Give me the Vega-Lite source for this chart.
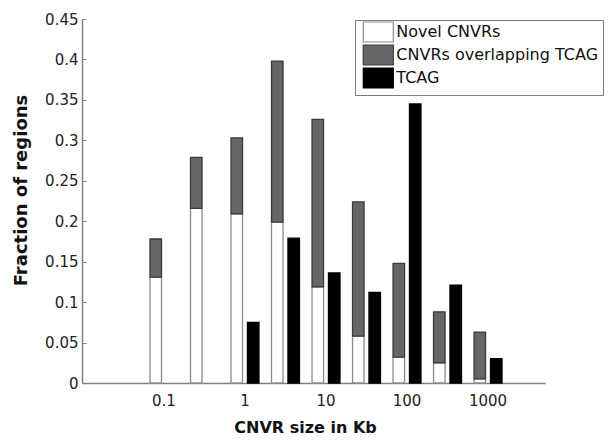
{
  "$schema": "https://vega.github.io/schema/vega-lite/v6.json",
  "width": 463,
  "height": 364,
  "autosize": {"type": "none"},
  "padding": {"left": 82, "top": 19, "right": 65, "bottom": 58},
  "background": "white",
  "config": {
    "view": {"stroke": null},
    "font": "DejaVu Sans",
    "legend": {
      "orient": "none",
      "legendX": 273,
      "legendY": 1,
      "strokeColor": "#7a7a7a",
      "fillColor": "white",
      "padding": 4,
      "symbolType": "M-2.25,-1.5H2.25V1.5H-2.25Z",
      "symbolSize": 178,
      "symbolStrokeWidth": 1.2,
      "symbolOpacity": 1,
      "symbolOffset": 11.3,
      "labelOffset": 10,
      "labelFont": "DejaVu Sans",
      "labelFontSize": 16,
      "labelColor": "#111",
      "rowPadding": -3,
      "labelLimit": 400
    }
  },
  "data": {
    "values": [
      {"size": "0.1", "bar": "CNVR", "series": "Novel CNVRs", "rank": 1, "fraction": 0.131},
      {"size": "0.1", "bar": "CNVR", "series": "CNVRs overlapping TCAG", "rank": 2, "fraction": 0.047},
      {"size": "0.32", "bar": "CNVR", "series": "Novel CNVRs", "rank": 1, "fraction": 0.216},
      {"size": "0.32", "bar": "CNVR", "series": "CNVRs overlapping TCAG", "rank": 2, "fraction": 0.063},
      {"size": "1", "bar": "CNVR", "series": "Novel CNVRs", "rank": 1, "fraction": 0.209},
      {"size": "1", "bar": "CNVR", "series": "CNVRs overlapping TCAG", "rank": 2, "fraction": 0.094},
      {"size": "1", "bar": "TCAG", "series": "TCAG", "rank": 3, "fraction": 0.075},
      {"size": "3.2", "bar": "CNVR", "series": "Novel CNVRs", "rank": 1, "fraction": 0.199},
      {"size": "3.2", "bar": "CNVR", "series": "CNVRs overlapping TCAG", "rank": 2, "fraction": 0.199},
      {"size": "3.2", "bar": "TCAG", "series": "TCAG", "rank": 3, "fraction": 0.179},
      {"size": "10", "bar": "CNVR", "series": "Novel CNVRs", "rank": 1, "fraction": 0.119},
      {"size": "10", "bar": "CNVR", "series": "CNVRs overlapping TCAG", "rank": 2, "fraction": 0.207},
      {"size": "10", "bar": "TCAG", "series": "TCAG", "rank": 3, "fraction": 0.136},
      {"size": "32", "bar": "CNVR", "series": "Novel CNVRs", "rank": 1, "fraction": 0.058},
      {"size": "32", "bar": "CNVR", "series": "CNVRs overlapping TCAG", "rank": 2, "fraction": 0.166},
      {"size": "32", "bar": "TCAG", "series": "TCAG", "rank": 3, "fraction": 0.112},
      {"size": "100", "bar": "CNVR", "series": "Novel CNVRs", "rank": 1, "fraction": 0.032},
      {"size": "100", "bar": "CNVR", "series": "CNVRs overlapping TCAG", "rank": 2, "fraction": 0.116},
      {"size": "100", "bar": "TCAG", "series": "TCAG", "rank": 3, "fraction": 0.345},
      {"size": "320", "bar": "CNVR", "series": "Novel CNVRs", "rank": 1, "fraction": 0.025},
      {"size": "320", "bar": "CNVR", "series": "CNVRs overlapping TCAG", "rank": 2, "fraction": 0.063},
      {"size": "320", "bar": "TCAG", "series": "TCAG", "rank": 3, "fraction": 0.121},
      {"size": "1000", "bar": "CNVR", "series": "Novel CNVRs", "rank": 1, "fraction": 0.005},
      {"size": "1000", "bar": "CNVR", "series": "CNVRs overlapping TCAG", "rank": 2, "fraction": 0.058},
      {"size": "1000", "bar": "TCAG", "series": "TCAG", "rank": 3, "fraction": 0.030}
    ]
  },
  "mark": {"type": "bar", "strokeWidth": 1.3},
  "encoding": {
    "x": {
      "field": "size",
      "type": "nominal",
      "scale": {
        "domain": ["lo", "0.1", "0.32", "1", "3.2", "10", "32", "100", "320", "1000", "hi"],
        "paddingInner": 0.31,
        "paddingOuter": 0.37,
        "align": 0.917
      },
      "axis": {
        "values": ["0.1", "1", "10", "100", "1000"],
        "labelAngle": 0,
        "labelDx": 5,
        "ticks": false,
        "domainColor": "#808080",
        "domainWidth": 1.5,
        "labelFont": "DejaVu Sans",
        "labelFontSize": 15,
        "labelColor": "#222",
        "labelPadding": 10,
        "title": "CNVR size in Kb",
        "titleFont": "DejaVu Sans",
        "titleFontWeight": "bold",
        "titleFontSize": 16,
        "titleColor": "#111",
        "titleX": 223,
        "titleY": 36
      }
    },
    "xOffset": {
      "field": "bar",
      "type": "nominal",
      "sort": ["CNVR", "TCAG"],
      "scale": {"paddingInner": 0.3}
    },
    "y": {
      "field": "fraction",
      "type": "quantitative",
      "stack": "zero",
      "scale": {"domain": [0, 0.45], "nice": false},
      "axis": {
        "values": [0, 0.05, 0.1, 0.15, 0.2, 0.25, 0.3, 0.35, 0.4, 0.45],
        "format": ".2~f",
        "grid": false,
        "domainColor": "#808080",
        "domainWidth": 1.5,
        "tickColor": "#808080",
        "tickSize": -4,
        "labelPadding": 8,
        "labelFont": "DejaVu Sans",
        "labelFontSize": 15,
        "labelColor": "#222",
        "title": "Fraction of regions",
        "titleFont": "DejaVu Sans",
        "titleFontWeight": "bold",
        "titleFontSize": 18,
        "titleColor": "#111",
        "titleX": -52,
        "titleY": 171
      }
    },
    "color": {
      "field": "series",
      "type": "nominal",
      "scale": {
        "domain": ["Novel CNVRs", "CNVRs overlapping TCAG", "TCAG"],
        "range": ["#ffffff", "#666666", "#000000"]
      },
      "legend": {"title": null}
    },
    "stroke": {
      "field": "series",
      "type": "nominal",
      "scale": {
        "domain": ["Novel CNVRs", "CNVRs overlapping TCAG", "TCAG"],
        "range": ["#8c8c8c", "#3a3a3a", "#000000"]
      },
      "legend": {"title": null}
    },
    "order": {"field": "rank", "type": "quantitative"}
  }
}
